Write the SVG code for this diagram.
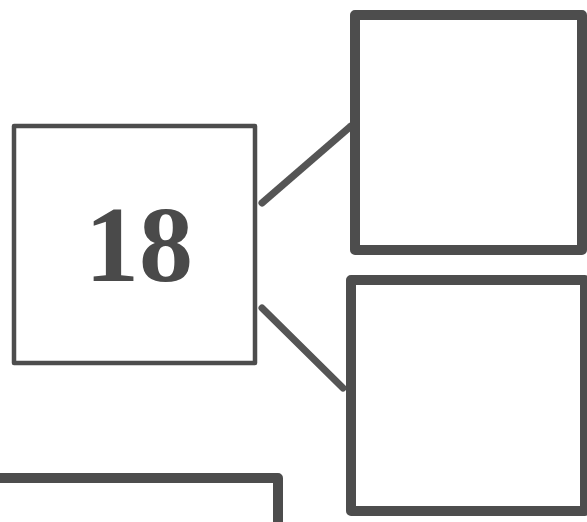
<svg xmlns="http://www.w3.org/2000/svg" width="587" height="522" viewBox="0 0 587 522">
<style>
.box{fill:#fff;stroke:#4d4d4d;stroke-linejoin:round}
.thin{stroke-width:4.5}
.thick{stroke-width:10}
.conn{stroke:#555;stroke-width:7;stroke-linecap:round;fill:none}
.lbl{font-family:"Liberation Serif","DejaVu Serif",serif;font-weight:bold;font-size:108px;fill:#4a4a4a;text-anchor:middle}
</style>
<rect width="587" height="522" fill="#fff"/>
<g id="connectors">
<line class="conn" x1="262" y1="203" x2="351" y2="126"/>
<line class="conn" x1="262" y1="308" x2="343" y2="388"/>
</g>
<g id="node-18">
<rect class="box thin" x="14" y="126" width="241" height="237"/>
<text class="lbl" x="139" y="281">18</text>
</g>
<g id="node-top-right">
<rect class="box thick" x="355" y="15" width="227" height="235"/>
</g>
<g id="node-bottom-right">
<rect class="box thick" x="351" y="280" width="234" height="231"/>
</g>
<g id="node-bottom-left">
<rect class="box thick" x="-20" y="478" width="298" height="100"/>
</g>
</svg>
